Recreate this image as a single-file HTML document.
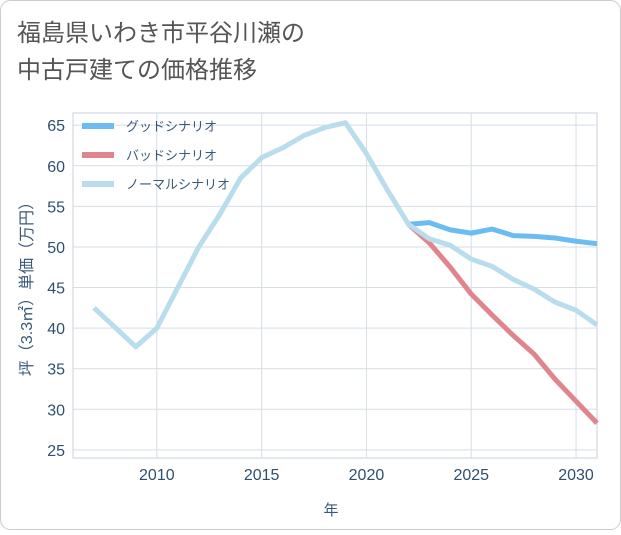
<!DOCTYPE html>
<html><head><meta charset="utf-8"><style>
body{margin:0;background:#fff;}
#wrap{position:relative;width:621px;height:530px;font-family:"Liberation Sans","Noto Sans CJK JP",sans-serif;}
</style></head><body>
<div id="wrap">
<svg id="chart" width="621" height="530">
<rect x="0.5" y="0.5" width="620" height="529" rx="10" fill="#fff" stroke="#ccc"/>
<text x="17" y="41" font-size="24" fill="#555">福島県いわき市平谷川瀬の</text>
<text x="17" y="78" font-size="24" fill="#555">中古戸建ての価格推移</text>
<g id="grid"></g><g id="series"></g><g id="legend"></g>
<text x="331" y="515" font-size="15" fill="#3a5a7a" text-anchor="middle">年</text>
<text transform="translate(32,285) rotate(-90)" font-size="16" fill="#3a5a7a" text-anchor="middle">坪（3.3㎡）単価（万円）</text>
</svg></div>
<script>
const years=[2007,2008,2009,2010,2011,2012,2013,2014,2015,2016,2017,2018,2019,2020,2021,2022,2023,2024,2025,2026,2027,2028,2029,2030,2031];
const normalVals=[42.5,40.1,37.7,40,45,50,54,58.5,61,62.2,63.7,64.7,65.3,61.5,57,52.8,51,50.2,48.5,47.6,46,44.8,43.2,42.2,40.4];
const futureYears=[2022,2023,2024,2025,2026,2027,2028,2029,2030,2031];
const goodVals=[52.8,53,52.1,51.7,52.2,51.4,51.3,51.1,50.7,50.4];
const badVals=[52.8,50.5,47.5,44.2,41.6,39.1,36.8,33.7,31,28.3];
const xTicks=[2010,2015,2020,2025,2030];
const yTicks=[25,30,35,40,45,50,55,60,65];
const legendLabels=["グッドシナリオ","バッドシナリオ","ノーマルシナリオ"];
const NS="http://www.w3.org/2000/svg";
const L=73,R=597,T=113,B=458,xMin=2006,xMax=2031,yMin=24,yMax=66.5;
const X=v=>L+(v-xMin)/(xMax-xMin)*(R-L);
const Y=v=>B-(v-yMin)/(yMax-yMin)*(B-T);
function mk(tag,attrs,parent){const e=document.createElementNS(NS,tag);for(const k in attrs)e.setAttribute(k,attrs[k]);parent.appendChild(e);return e;}
const grid=document.getElementById('grid');
mk('rect',{x:L,y:T,width:R-L,height:B-T,fill:'none',stroke:'#c8d2dc'},grid);
yTicks.forEach(v=>{const l=mk('line',{x1:L,x2:R,y1:Y(v),y2:Y(v),stroke:'#d5dde5'},grid);

const t=mk('text',{x:L-8,y:Y(v)+6,'font-size':16,fill:'#2f4f6f','text-anchor':'end'},grid);t.textContent=v;
});
xTicks.forEach(v=>{const l=mk('line',{x1:X(v),x2:X(v),y1:T,y2:B,stroke:'#d5dde5'},grid);

const t=mk('text',{x:X(v),y:B+22,'font-size':16,fill:'#2f4f6f','text-anchor':'middle'},grid);t.textContent=v;
});
const ser=document.getElementById('series');
function line(xs,ys,color,name){const p=mk('polyline',{points:xs.map((x,i)=>X(x)+','+Y(ys[i])).join(' '),fill:'none',stroke:color,'stroke-width':5,'stroke-linejoin':'round'},ser);
}
line(futureYears,goodVals,'#6bbcf0','good-scenario-line');
line(futureYears,badVals,'#e0848e','bad-scenario-line');
line(years,normalVals,'#b9dded','normal-scenario-line');
const lg=document.getElementById('legend');const colors=['#6bbcf0','#e0848e','#b9dded'];
legendLabels.forEach((s,i)=>{const y=126+i*29;
const g=mk('g',{},lg);
mk('line',{x1:82,x2:114,y1:y,y2:y,stroke:colors[i],'stroke-width':6},g);
const t=mk('text',{x:126,y:y+5,'font-size':13,fill:'#3a5a7a'},g);t.textContent=s;});
</script></body></html>
